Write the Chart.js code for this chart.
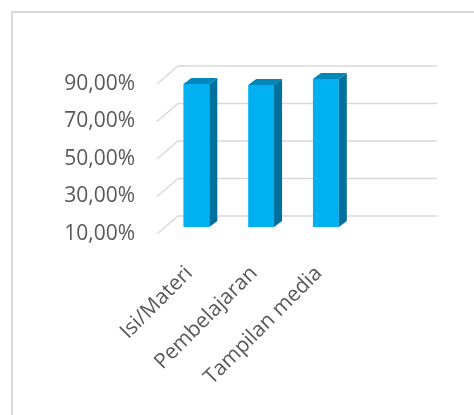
<!DOCTYPE html>
<html>
<head>
<meta charset="utf-8">
<script src="https://cdn.jsdelivr.net/npm/chart.js@4.4.0/dist/chart.umd.min.js"></script>
<style>
	html, body { margin: 0; padding: 0; background: #fff; }
	#wrap { width: 474px; height: 415px; }
</style>
</head>
<body>
<div id="wrap"><canvas id="scoreBox" width="474" height="415"></canvas></div>
<script>
var categories = ['Isi/Materi', 'Pembelajaran', 'Tampilan media', ''];
var scores = [0.8625, 0.857, 0.889, null];
var yTicks = [0.1, 0.3, 0.5, 0.7, 0.9];

// 3d look: back wall offset, bar offset into the floor, bar thickness
var wallDepth = { x: 21, y: -18 };
var barShift = { x: 7, y: -7 };
var barDepth = { x: 8, y: -6 };

function pct(v) {
	return (v * 100).toFixed(2).replace('.', ',') + '%';
}

var frame = {
	id: 'frame',
	beforeDraw: function(chart) {
		var c = chart.ctx;
		c.save();
		c.strokeStyle = '#d9d9d9';
		c.lineWidth = 2;
		c.beginPath();
		c.moveTo(12, chart.height);
		c.lineTo(12, 12);
		c.lineTo(chart.width, 12);
		c.stroke();
		c.restore();
	}
};

var wall = {
	id: 'wall',
	beforeDatasetsDraw: function(chart) {
		var c = chart.ctx, area = chart.chartArea, ys = chart.scales.y;
		c.save();
		c.strokeStyle = '#d9d9d9';
		c.lineWidth = 1.5;
		ys.ticks.forEach(function(t) {
			var y = ys.getPixelForValue(t.value);
			c.beginPath();
			c.moveTo(area.left, y);
			c.lineTo(area.left + wallDepth.x, y + wallDepth.y);
			c.lineTo(area.right + wallDepth.x, y + wallDepth.y);
			c.stroke();
		});
		c.restore();
		// bars stand a little way back on the floor
		c.save();
		c.translate(barShift.x, barShift.y);
	},
	afterDatasetsDraw: function(chart) {
		var c = chart.ctx;
		chart.getDatasetMeta(0).data.forEach(function(bar, i) {
			if (scores[i] == null) return;
			var p = bar.getProps(['x', 'y', 'base', 'width'], true);
			var l = p.x - p.width / 2, r = p.x + p.width / 2;
			// top
			c.fillStyle = '#0087b9';
			c.beginPath();
			c.moveTo(l, p.y);
			c.lineTo(l + barDepth.x, p.y + barDepth.y);
			c.lineTo(r + barDepth.x, p.y + barDepth.y);
			c.lineTo(r, p.y);
			c.closePath();
			c.fill();
			// side
			c.fillStyle = '#00709c';
			c.beginPath();
			c.moveTo(r, p.y);
			c.lineTo(r + barDepth.x, p.y + barDepth.y);
			c.lineTo(r + barDepth.x, p.base + barDepth.y);
			c.lineTo(r, p.base);
			c.closePath();
			c.fill();
		});
		c.restore();
	}
};

var font = { family: '"Open Sans", sans-serif', size: 21 };

new Chart(document.getElementById('scoreBox'), {
	type: 'bar',
	data: {
		labels: categories,
		datasets: [{
			data: scores,
			base: yTicks[0],
			backgroundColor: '#00b0f0',
			borderWidth: 0,
			barPercentage: 0.4,
			categoryPercentage: 1
		}]
	},
	options: {
		responsive: false,
		animation: false,
		devicePixelRatio: 1,
		layout: { padding: { top: 84, right: 58, left: 0, bottom: 0 } },
		plugins: { legend: { display: false }, tooltip: { enabled: false } },
		scales: {
			x: {
				grid: { display: false, drawTicks: false },
				border: { display: false },
				ticks: {
					autoSkip: false,
					minRotation: 45,
					maxRotation: 45,
					padding: 27,
					color: '#595959',
					font: font
				},
				afterFit: function(scale) { scale.height = 181; }
			},
			y: {
				min: 0.1,
				max: 0.9,
				grid: { display: false, drawTicks: false },
				border: { display: false },
				afterBuildTicks: function(scale) {
					scale.ticks = yTicks.map(function(v) { return { value: v }; });
				},
				ticks: {
					padding: 22,
					color: '#595959',
					font: font,
					callback: function(v) { return pct(v); }
				},
				afterFit: function(scale) { scale.width = 157; }
			}
		}
	},
	plugins: [frame, wall]
});
</script>
</body>
</html>
